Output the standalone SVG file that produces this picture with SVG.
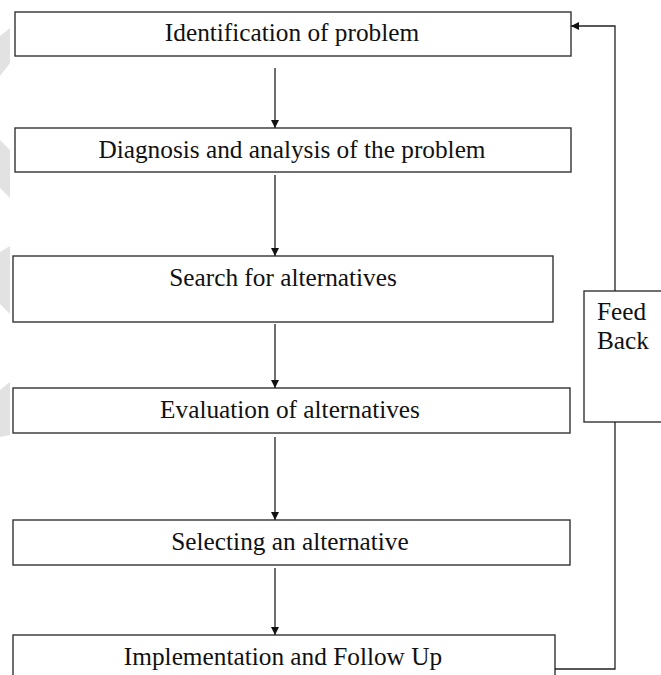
<svg xmlns="http://www.w3.org/2000/svg" width="661" height="675" viewBox="0 0 661 675">
<defs>
<style>
.box{fill:#fff;stroke:#333;stroke-width:1.4}
.lbl{font-family:"Liberation Serif","Times New Roman",serif;font-size:25.3px;fill:#111}
.c{text-anchor:middle}
.ln{fill:none;stroke:#222;stroke-width:1.3}
.wm{fill:#e2e2e2}
</style>
<marker id="ah" viewBox="0 0 10 10" refX="10" refY="5" markerWidth="8" markerHeight="8" markerUnits="userSpaceOnUse" orient="auto">
<path d="M0,0 L10,5 L0,10 z" fill="#111"/>
</marker>
</defs>
<rect width="661" height="675" fill="#fff"/>
<g id="watermark">
<polygon class="wm" points="0,36 10,28 10,63 0,76"/>
<polygon class="wm" points="0,140 10,150 10,198 0,188"/>
<polygon class="wm" points="0,252 10,246 10,314 0,304"/>
<polygon class="wm" points="0,390 10,382 10,435 0,437"/>
</g>
<g id="n1"><rect class="box" x="15" y="12" width="556" height="44"/><text class="lbl c" x="292" y="41">Identification of problem</text></g>
<g id="n2"><rect class="box" x="15" y="128" width="556" height="44"/><text class="lbl c" x="292" y="158">Diagnosis and analysis of the problem</text></g>
<g id="n3"><rect class="box" x="13" y="256" width="540" height="66"/><text class="lbl c" x="283" y="286">Search for alternatives</text></g>
<g id="n4"><rect class="box" x="13" y="388" width="557" height="45"/><text class="lbl c" x="290" y="418">Evaluation of alternatives</text></g>
<g id="n5"><rect class="box" x="13" y="520" width="557" height="45"/><text class="lbl c" x="290" y="550">Selecting an alternative</text></g>
<g id="n6"><rect class="box" x="13" y="635" width="542" height="50"/><text class="lbl c" x="283" y="665">Implementation and Follow Up</text></g>
<g id="feedback"><rect class="box" x="584" y="291" width="90" height="131"/><text class="lbl" x="597" y="320">Feed</text><text class="lbl" x="597" y="349">Back</text></g>
<g id="connectors">
<line class="ln" x1="275" y1="68" x2="275" y2="128" marker-end="url(#ah)"/>
<line class="ln" x1="275" y1="175" x2="275" y2="256" marker-end="url(#ah)"/>
<line class="ln" x1="275" y1="324" x2="275" y2="388" marker-end="url(#ah)"/>
<line class="ln" x1="275" y1="437" x2="275" y2="520" marker-end="url(#ah)"/>
<line class="ln" x1="275" y1="568" x2="275" y2="635" marker-end="url(#ah)"/>
<polyline class="ln" points="555,669 615,669 615,422"/>
<polyline class="ln" points="615,291 615,26 571,26" marker-end="url(#ah)"/>
</g>
</svg>
